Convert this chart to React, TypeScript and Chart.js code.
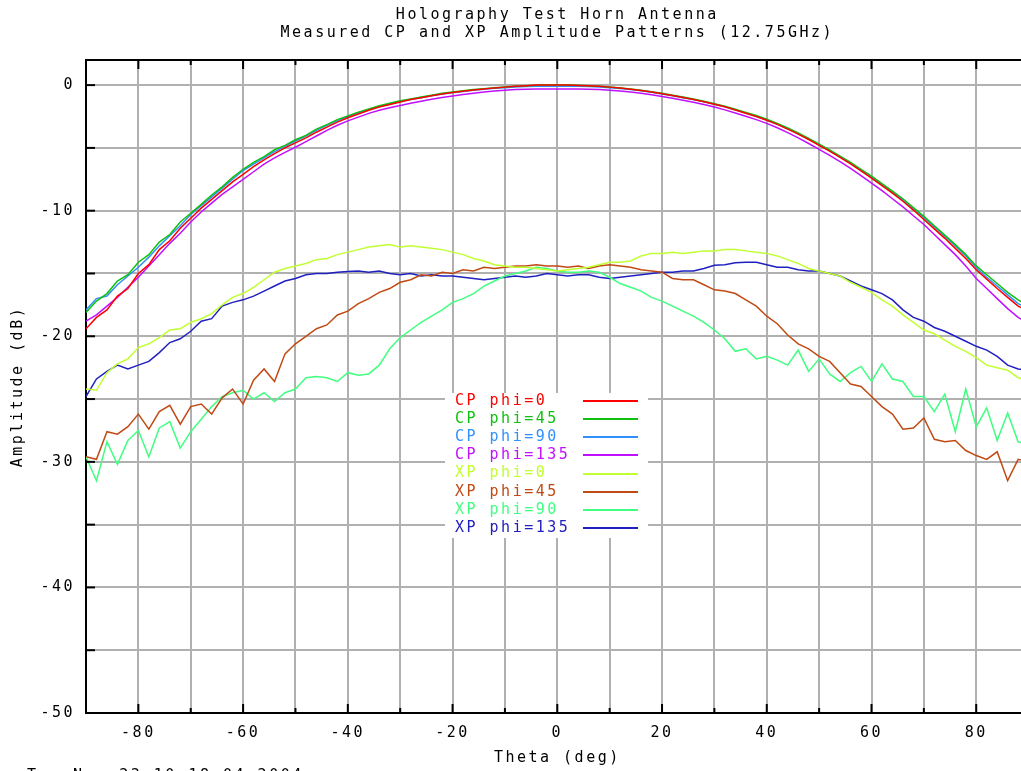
import React, { useEffect, useRef } from 'react';
import { Chart, registerables } from 'chart.js';

Chart.register(...registerables);

const FONT = "'DejaVu Sans Mono', 'Liberation Mono', monospace";
const FONT_SIZE = 15;

const titleLines = ['Holography Test Horn Antenna', 'Measured CP and XP Amplitude Patterns (12.75GHz)'];
const xAxisTitle = 'Theta (deg)';
const yAxisTitle = 'Amplitude (dB)';
const stampText = 'Tue Nov 23 10:18:04 2004';

const theta = [
  -90, -88, -86, -84, -82, -80, -78, -76, -74, -72,
  -70, -68, -66, -64, -62, -60, -58, -56, -54, -52,
  -50, -48, -46, -44, -42, -40, -38, -36, -34, -32,
  -30, -28, -26, -24, -22, -20, -18, -16, -14, -12,
  -10, -8, -6, -4, -2, 0, 2, 4, 6, 8,
  10, 12, 14, 16, 18, 20, 22, 24, 26, 28,
  30, 32, 34, 36, 38, 40, 42, 44, 46, 48,
  50, 52, 54, 56, 58, 60, 62, 64, 66, 68,
  70, 72, 74, 76, 78, 80, 82, 84, 86, 88,
  90,
];

const xTickValues = [-90, -80, -70, -60, -50, -40, -30, -20, -10, 0, 10, 20, 30, 40, 50, 60, 70, 80, 90];
const yTickValues = [-50, -45, -40, -35, -30, -25, -20, -15, -10, -5, 0];

const cpPhi0 = [
  -19.4, -18.5, -17.9, -16.8, -16.2, -15.0, -14.3, -13.1, -12.4, -11.4,
  -10.6, -9.8, -9.1, -8.4, -7.7, -7.1, -6.5, -5.95, -5.45, -5.0,
  -4.6, -4.2, -3.75, -3.35, -2.95, -2.6, -2.3, -2.0, -1.75, -1.55,
  -1.35, -1.15, -1.0, -0.85, -0.7, -0.58, -0.48, -0.38, -0.3, -0.22,
  -0.16, -0.1, -0.05, 0, 0, 0, 0, -0.03, -0.06, -0.1,
  -0.16, -0.23, -0.32, -0.42, -0.55, -0.68, -0.83, -0.98, -1.14, -1.32,
  -1.52, -1.73, -1.98, -2.24, -2.5, -2.8, -3.13, -3.5, -3.9, -4.33,
  -4.8, -5.26, -5.76, -6.28, -6.83, -7.4, -8.0, -8.6, -9.25, -9.95,
  -10.7, -11.45, -12.2, -13.0, -13.8, -14.7, -15.45, -16.2, -16.9, -17.6,
  -18.0,
];

const cpPhi45 = [
  -18.1, -17.2, -16.6, -15.6, -15.1, -14.1, -13.5, -12.5, -11.9, -10.9,
  -10.2, -9.5, -8.75, -8.1, -7.35, -6.7, -6.15, -5.7, -5.15, -4.8,
  -4.35, -4.0, -3.5, -3.15, -2.75, -2.45, -2.15, -1.9, -1.65, -1.45,
  -1.25, -1.1, -0.95, -0.8, -0.65, -0.55, -0.45, -0.35, -0.28, -0.2,
  -0.15, -0.1, -0.05, -0.02, 0, 0, 0, -0.02, -0.05, -0.1,
  -0.15, -0.22, -0.3, -0.4, -0.52, -0.65, -0.8, -0.95, -1.1, -1.28,
  -1.48, -1.68, -1.92, -2.18, -2.42, -2.72, -3.05, -3.4, -3.8, -4.25,
  -4.7, -5.15, -5.65, -6.15, -6.7, -7.25, -7.85, -8.45, -9.05, -9.75,
  -10.45, -11.2, -11.95, -12.7, -13.5, -14.4, -15.1, -15.8, -16.5, -17.1,
  -17.6,
];

const cpPhi90 = [
  -17.9, -17.0, -16.8, -15.9, -15.2, -14.5, -13.7, -12.8, -12.0, -11.2,
  -10.3, -9.6, -8.9, -8.2, -7.5, -6.8, -6.3, -5.8, -5.3, -4.9,
  -4.45, -4.05, -3.6, -3.2, -2.85, -2.5, -2.2, -1.95, -1.7, -1.5,
  -1.3, -1.15, -1.0, -0.85, -0.7, -0.6, -0.5, -0.4, -0.33, -0.25,
  -0.2, -0.15, -0.12, -0.1, -0.1, -0.1, -0.1, -0.1, -0.12, -0.15,
  -0.2, -0.26, -0.34, -0.44, -0.56, -0.7, -0.85, -1.0, -1.15, -1.33,
  -1.53, -1.73, -1.97, -2.23, -2.48, -2.78, -3.1, -3.47, -3.87, -4.3,
  -4.75, -5.22, -5.72, -6.22, -6.78, -7.33, -7.95, -8.55, -9.15, -9.85,
  -10.55, -11.3, -12.05, -12.8, -13.6, -14.55, -15.3, -16.0, -16.7, -17.4,
  -17.8,
];

const cpPhi135 = [
  -18.8, -18.3, -17.6, -16.9, -16.1, -15.3, -14.4, -13.5, -12.6, -11.8,
  -10.9, -10.1, -9.4, -8.7, -8.1, -7.5, -6.9, -6.3, -5.8, -5.35,
  -4.95, -4.5, -4.05, -3.6, -3.2, -2.85, -2.55, -2.25, -2.0, -1.8,
  -1.62, -1.45, -1.28, -1.12, -0.98, -0.86, -0.75, -0.64, -0.55, -0.47,
  -0.4, -0.35, -0.32, -0.3, -0.3, -0.3, -0.3, -0.3, -0.32, -0.35,
  -0.4, -0.46, -0.54, -0.64, -0.77, -0.9, -1.05, -1.2, -1.37, -1.55,
  -1.75, -1.97, -2.22, -2.48, -2.75, -3.05, -3.4, -3.78, -4.2, -4.65,
  -5.12, -5.6, -6.1, -6.63, -7.2, -7.8, -8.4, -9.05, -9.7, -10.4,
  -11.1, -11.9, -12.7, -13.5, -14.4, -15.4, -16.2, -17.0, -17.8, -18.5,
  -19.0,
];

const xpPhi0 = [
  -24.2, -24.3, -22.9, -22.2, -21.8, -20.9, -20.6, -20.1, -19.5, -19.4,
  -18.9, -18.6, -18.2, -17.5, -16.9, -16.6, -16.1, -15.5, -14.9, -14.6,
  -14.4, -14.2, -13.9, -13.8, -13.5, -13.3, -13.1, -12.9, -12.8, -12.7,
  -12.9, -12.8, -12.9, -13.0, -13.1, -13.3, -13.5, -13.8, -14.0, -14.3,
  -14.4, -14.5, -14.5, -14.6, -14.7, -14.8, -14.7, -14.6, -14.5, -14.3,
  -14.1, -14.1, -14.0, -13.6, -13.4, -13.4, -13.3, -13.4, -13.3, -13.2,
  -13.2, -13.1, -13.1, -13.2, -13.3, -13.4, -13.6, -13.9, -14.2, -14.6,
  -14.8, -15.0, -15.2, -15.7, -16.1, -16.5, -17.1, -17.6, -18.3, -18.9,
  -19.5, -19.8, -20.3, -20.8, -21.2, -21.7, -22.3, -22.5, -22.7, -23.3,
  -23.5,
];

const xpPhi45 = [
  -29.6, -29.8, -27.6, -27.8, -27.2, -26.2, -27.4, -26.0, -25.5, -27.0,
  -25.6, -25.4, -26.2, -24.9, -24.2, -25.4, -23.5, -22.6, -23.6, -21.4,
  -20.6, -20.0, -19.4, -19.1, -18.3, -18.0, -17.4, -17.0, -16.5, -16.2,
  -15.7, -15.5, -15.1, -15.2, -14.9, -15.0, -14.7, -14.8, -14.5, -14.6,
  -14.5, -14.4, -14.4, -14.3, -14.4, -14.4, -14.5, -14.4, -14.6, -14.4,
  -14.3, -14.4, -14.5, -14.7, -14.8, -14.9, -15.4, -15.5, -15.5, -15.9,
  -16.3, -16.4, -16.6, -17.1, -17.6, -18.4, -19.0, -19.9, -20.6, -21.0,
  -21.6, -22.0, -22.9, -23.8, -24.0, -24.8, -25.6, -26.2, -27.4, -27.3,
  -26.5, -28.2, -28.4, -28.3, -29.1, -29.5, -29.8, -29.2, -31.5, -29.8,
  -30.0,
];

const xpPhi90 = [
  -29.6, -31.5, -28.4, -30.2, -28.3, -27.5, -29.6, -27.3, -26.8, -28.9,
  -27.6, -26.6, -25.6, -24.8, -24.5, -24.3, -25.0, -24.5, -25.2, -24.5,
  -24.2, -23.3, -23.2, -23.3, -23.6, -22.9, -23.1, -23.0, -22.3, -21.0,
  -20.1, -19.5, -18.9, -18.4, -17.9, -17.3, -17.0, -16.6, -16.0, -15.6,
  -15.2, -15.0, -14.8, -14.5, -14.6, -14.8, -14.9, -14.9, -14.8, -14.9,
  -15.3, -15.8, -16.1, -16.4, -16.9, -17.2, -17.6, -18.0, -18.4, -18.9,
  -19.5, -20.2, -21.2, -21.0, -21.8, -21.6, -21.9, -22.3, -21.1, -22.8,
  -21.8, -23.0, -23.6, -22.9, -22.4, -23.6, -22.2, -23.4, -23.6, -24.8,
  -24.8, -26.0, -24.6, -27.6, -24.2, -27.2, -25.7, -28.3, -26.1, -28.4,
  -28.6,
];

const xpPhi135 = [
  -24.8, -23.4, -22.8, -22.3, -22.6, -22.3, -22.0, -21.3, -20.5, -20.2,
  -19.6, -18.8, -18.6, -17.6, -17.3, -17.1, -16.8, -16.4, -16.0, -15.6,
  -15.4, -15.1, -15.0, -15.0, -14.9, -14.85, -14.8, -14.9, -14.8, -15.0,
  -15.1, -15.0, -15.2, -15.1, -15.2, -15.2, -15.3, -15.4, -15.5, -15.4,
  -15.3, -15.2, -15.3, -15.2, -15.0, -15.1, -15.2, -15.1, -15.1, -15.3,
  -15.4, -15.3, -15.2, -15.1, -15.0, -14.9, -14.9, -14.8, -14.8, -14.6,
  -14.35, -14.3, -14.15, -14.1, -14.1, -14.3, -14.5, -14.5, -14.7, -14.8,
  -14.8, -15.0, -15.2, -15.6, -16.0, -16.3, -16.6, -17.1, -17.9, -18.5,
  -18.8, -19.3, -19.6, -20.0, -20.4, -20.8, -21.1, -21.6, -22.3, -22.6,
  -22.7,
];

const seriesLabels = [
  'CP phi=0', 'CP phi=45', 'CP phi=90', 'CP phi=135',
  'XP phi=0', 'XP phi=45', 'XP phi=90', 'XP phi=135',
];
const seriesValues = [cpPhi0, cpPhi45, cpPhi90, cpPhi135, xpPhi0, xpPhi45, xpPhi90, xpPhi135];
const seriesColors = [
  '#ff0000', '#10c010', '#3090ff', '#c010ff',
  '#c0ff30', '#c04a14', '#40ff80', '#2020c0',
];

const textPlugin = {
  id: 'gnuplotDecor',
  beforeDraw(chart: any) {
    const ctx = chart.ctx;
    ctx.save();
    ctx.fillStyle = '#ffffff';
    ctx.fillRect(0, 0, chart.width, chart.height);
    ctx.restore();
    (ctx as any).letterSpacing = '2.5px';
  },
  beforeDatasetsDraw(chart: any) {
    const ctx = chart.ctx;
    ctx.save();
    ctx.fillStyle = '#ffffff';
    ctx.fillRect(445, 393, 203, 145);
    ctx.restore();
  },
  afterDatasetsDraw(chart: any) {
    const ctx = chart.ctx;
    ctx.save();
    ctx.font = `${FONT_SIZE}px ${FONT}`;
    ctx.textAlign = 'left';
    ctx.textBaseline = 'middle';
    seriesLabels.forEach((lab, i) => {
      const y = 401 + i * 18.15;
      ctx.fillStyle = seriesColors[i];
      ctx.fillText(lab, 455, y);
      ctx.strokeStyle = seriesColors[i];
      ctx.lineWidth = 2;
      ctx.beginPath();
      ctx.moveTo(583, Math.round(y));
      ctx.lineTo(638, Math.round(y));
      ctx.stroke();
    });
    ctx.restore();
  },
  afterDraw(chart: any) {
    const ctx = chart.ctx;
    const area = chart.chartArea;
    const xs = chart.scales.x;
    const ys = chart.scales.y;
    ctx.save();
    ctx.strokeStyle = '#000000';
    ctx.lineWidth = 2;
    ctx.beginPath();
    ctx.moveTo(area.left - 1, area.top);
    ctx.lineTo(area.right, area.top);
    ctx.stroke();
    xTickValues.forEach((v) => {
      const px = xs.getPixelForValue(v);
      const len = v % 20 === 0 ? 9 : 5;
      ctx.beginPath();
      ctx.moveTo(px, area.bottom);
      ctx.lineTo(px, area.bottom - len);
      ctx.moveTo(px, area.top);
      ctx.lineTo(px, area.top + len);
      ctx.stroke();
    });
    yTickValues.forEach((v) => {
      const py = ys.getPixelForValue(v);
      ctx.beginPath();
      ctx.moveTo(area.left, py);
      ctx.lineTo(area.left + 9, py);
      ctx.stroke();
    });
    ctx.font = `${FONT_SIZE}px ${FONT}`;
    ctx.fillStyle = '#000000';
    ctx.textAlign = 'left';
    ctx.textBaseline = 'alphabetic';
    ctx.fillText(stampText, 27, 780);
    ctx.restore();
  },
};

export default function App() {
  const canvasRef = useRef<HTMLCanvasElement | null>(null);

  useEffect(() => {
    const canvas = canvasRef.current;
    if (!canvas) return;
    const font = { family: FONT, size: FONT_SIZE };
    const chart = new Chart(canvas, {
      type: 'line',
      data: {
        datasets: seriesLabels.map((label, i) => ({
          label,
          data: theta.map((t, j) => ({ x: t, y: seriesValues[i][j] })),
          borderColor: seriesColors[i],
          backgroundColor: seriesColors[i],
          borderWidth: 1.5,
          pointRadius: 0,
          tension: 0,
          fill: false,
        })),
      },
      options: {
        animation: false,
        responsive: false,
        events: [],
        layout: { padding: { left: 0, right: 11.4, top: 0, bottom: 0 } },
        plugins: {
          legend: { display: false },
          tooltip: { enabled: false },
          title: {
            display: true,
            fullSize: false,
            text: titleLines,
            color: '#000000',
            font: { family: FONT, size: FONT_SIZE, weight: 'normal', lineHeight: 18 / FONT_SIZE },
            padding: { top: 6, bottom: 18 },
          },
        },
        scales: {
          x: {
            type: 'linear',
            position: 'bottom',
            min: -90,
            max: 90,
            afterBuildTicks: (s: any) => {
              s.ticks = xTickValues.map((v) => ({ value: v }));
            },
            afterFit: (s: any) => {
              s.height = 58;
            },
            ticks: {
              autoSkip: false,
              maxRotation: 0,
              minRotation: 0,
              padding: 11,
              color: '#000000',
              font,
              callback: (v: any) => (Number(v) % 20 === 0 ? String(v) : ''),
            },
            grid: { color: '#b0b0b0', lineWidth: 2, drawTicks: false },
            border: { display: true, color: '#000000', width: 2 },
            title: {
              display: true,
              text: xAxisTitle,
              color: '#000000',
              font,
              padding: { top: 0, bottom: 4 },
            },
          },
          y: {
            type: 'linear',
            min: -50,
            max: 2,
            afterBuildTicks: (s: any) => {
              s.ticks = yTickValues.map((v) => ({ value: v }));
            },
            afterFit: (s: any) => {
              s.width = 86;
            },
            ticks: {
              padding: 11,
              color: '#000000',
              font,
              callback: (v: any) => (Number(v) % 10 === 0 ? String(v) : ''),
            },
            grid: { color: '#b0b0b0', lineWidth: 2, drawTicks: false },
            border: { display: true, color: '#000000', width: 2 },
            title: {
              display: true,
              text: yAxisTitle,
              color: '#000000',
              font,
              padding: { top: 9, bottom: 0 },
            },
          },
        },
      },
      plugins: [textPlugin],
    } as any);
    return () => {
      chart.destroy();
    };
  }, []);

  return (
    <div
      style={{
        position: 'fixed',
        left: 0,
        top: 0,
        width: 1021,
        height: 771,
        overflow: 'hidden',
        background: '#ffffff',
      }}
    >
      <canvas ref={canvasRef} width={1040} height={771} style={{ display: 'block' }} />
    </div>
  );
}
